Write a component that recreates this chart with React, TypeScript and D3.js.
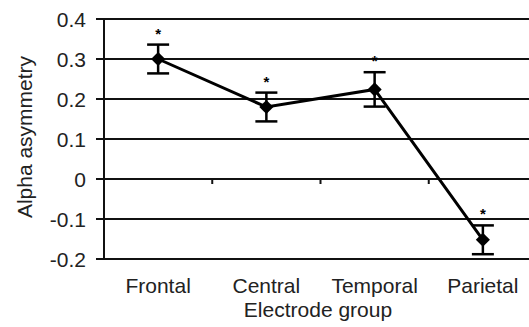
import React, { useRef, useEffect } from "react";
import * as d3 from "d3";

const groups = ["Frontal", "Central", "Temporal", "Parietal"];
const means = [0.3, 0.18, 0.224, -0.152];
const errors = [0.036, 0.036, 0.043, 0.036];
const yTicks = [-0.2, -0.1, 0, 0.1, 0.2, 0.3, 0.4];
const yTickLabels = ["-0.2", "-0.1", "0", "0.1", "0.2", "0.3", "0.4"];

export default function App() {
  const ref = useRef<SVGSVGElement>(null);

  useEffect(() => {
    if (!ref.current) return;
    const svg = d3.select(ref.current);
    svg.selectAll("*").remove();
    const width = 529;
    const height = 327;
    const left = 104;
    const right = 537;
    const font = "Liberation Sans, Arial, sans-serif";

    const x = d3.scaleBand().domain(groups).range([left, right]);
    const y = d3.scaleLinear().domain([-0.2, 0.4]).range([259, 19]);

    svg.attr("width", width).attr("height", height);

    // gridlines
    svg.append("g")
      .selectAll("line")
      .data(yTicks)
      .join("line")
      .attr("x1", left - 8)
      .attr("x2", width)
      .attr("y1", (d) => y(d))
      .attr("y2", (d) => y(d))
      .attr("stroke", "#111")
      .attr("stroke-width", 2);

    // y axis line
    svg.append("line")
      .attr("x1", left).attr("x2", left)
      .attr("y1", y(0.4)).attr("y2", y(-0.2))
      .attr("stroke", "#111").attr("stroke-width", 2);

    // y tick labels
    svg.append("g")
      .selectAll("text")
      .data(yTicks)
      .join("text")
      .attr("x", 86)
      .attr("y", (d) => y(d) + 7.5)
      .attr("text-anchor", "end")
      .attr("font-family", font)
      .attr("font-size", 21)
      .attr("fill", "#222")
      .text((d, i) => yTickLabels[i]);

    // category ticks on zero line
    svg.append("g")
      .selectAll("line")
      .data(groups.slice(1))
      .join("line")
      .attr("x1", (d) => x(d)!)
      .attr("x2", (d) => x(d)!)
      .attr("y1", y(0))
      .attr("y2", y(0) + 5)
      .attr("stroke", "#111")
      .attr("stroke-width", 2);

    // category labels
    svg.append("g")
      .selectAll("text")
      .data(groups)
      .join("text")
      .attr("x", (d) => x(d)! + x.bandwidth() / 2)
      .attr("y", 293)
      .attr("text-anchor", "middle")
      .attr("font-family", font)
      .attr("font-size", 21)
      .attr("fill", "#222")
      .text((d) => d);

    const cx = (i: number) => x(groups[i])! + x.bandwidth() / 2;

    // line
    const line = d3.line<number>()
      .x((d, i) => cx(i))
      .y((d) => y(d));
    svg.append("path")
      .datum(means)
      .attr("fill", "none")
      .attr("stroke", "#000")
      .attr("stroke-width", 3)
      .attr("d", line);

    // error bars
    const eb = svg.append("g").attr("stroke", "#000").attr("stroke-width", 2.5);
    means.forEach((m, i) => {
      const c = cx(i);
      eb.append("line").attr("x1", c).attr("x2", c)
        .attr("y1", y(m + errors[i])).attr("y2", y(m - errors[i]));
      [m + errors[i], m - errors[i]].forEach((v) => {
        eb.append("line").attr("x1", c - 11).attr("x2", c + 11)
          .attr("y1", y(v)).attr("y2", y(v));
      });
    });

    // markers
    const sym = d3.symbol().type(d3.symbolSquare).size(100);
    svg.append("g")
      .selectAll("path")
      .data(means)
      .join("path")
      .attr("d", sym)
      .attr("transform", (d, i) => `translate(${cx(i)},${y(d)}) rotate(45)`)
      .attr("fill", "#000");

    // asterisks
    svg.append("g")
      .selectAll("text")
      .data(means)
      .join("text")
      .attr("x", (d, i) => cx(i))
      .attr("y", (d, i) => y(d + errors[i]) - 6)
      .attr("text-anchor", "middle")
      .attr("font-family", font)
      .attr("font-size", 15)
      .attr("font-weight", "bold")
      .attr("fill", "#000")
      .text("*");

    // axis titles
    svg.append("text")
      .attr("transform", `translate(32,${137}) rotate(-90)`)
      .attr("text-anchor", "middle")
      .attr("font-family", font)
      .attr("font-size", 21)
      .attr("fill", "#222")
      .text("Alpha asymmetry");

    svg.append("text")
      .attr("x", 318)
      .attr("y", 317)
      .attr("text-anchor", "middle")
      .attr("font-family", font)
      .attr("font-size", 21)
      .attr("fill", "#222")
      .text("Electrode group");
  }, []);

  return (
    <svg
      ref={ref}
      style={{ position: "absolute", left: 0, top: 0, display: "block", background: "#fff" }}
    />
  );
}
